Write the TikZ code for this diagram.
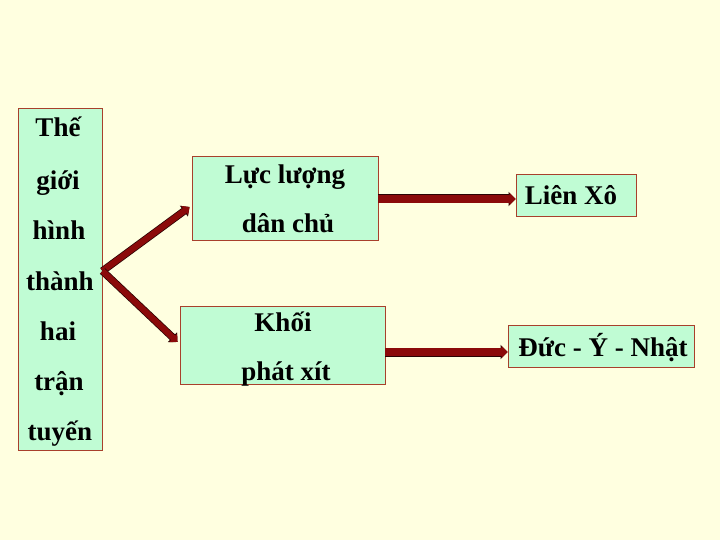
\documentclass[tikz,border=0pt]{standalone}
\usepackage{fontspec}
\setmainfont{Liberation Serif}
\usetikzlibrary{arrows.meta,calc}
\definecolor{bg}{HTML}{FFFFE0}
\definecolor{boxfill}{HTML}{C0FCD4}
\definecolor{boxline}{HTML}{A8402C}
\definecolor{arrowred}{HTML}{8B0A0A}
\tikzset{
  box/.style={draw=boxline, fill=boxfill, line width=0.9pt, inner sep=0pt},
  txt/.style={font=\fontsize{27}{30}\selectfont\bfseries, inner sep=0pt, anchor=base},
  bigarrow/.style={line width=6pt, draw=arrowred, -{Triangle[width=11pt,length=6pt,fill=arrowred]},
    preaction={draw=black!70!arrowred, line width=7.5pt, -{Triangle[width=13pt,length=7pt]}}},
  widearrow/.style={line width=7.5pt, draw=arrowred, -{Triangle[width=12pt,length=6pt,fill=arrowred]},
    preaction={draw=black!70!arrowred, line width=9pt, -{Triangle[width=14pt,length=7pt]}}},
}
\begin{document}
\begin{tikzpicture}[x=1pt,y=-1pt]
\fill[bg] (0,0) rectangle (720,540);
\useasboundingbox (0,0) rectangle (720,540);
% boxes
\node[box, minimum width=84pt, minimum height=342pt] (L) at (60,279) {};
\node[box, minimum width=186pt, minimum height=84pt] (A) at (285,198) {};
\node[box, minimum width=205pt, minimum height=78pt] (B) at (282.5,345) {};
\node[box, minimum width=120pt, minimum height=42pt] (LX) at (576,195) {};
\node[box, minimum width=186pt, minimum height=42pt] (D) at (601,346) {};
% texts
\node[txt] (t1) at (58,137) {Thế};
\node[txt] (t2) at (58,190) {giới};
\node[txt] (t3) at (59,240) {hình};
\node[txt] (t4) at (60,290) {thành};
\node[txt] (t5) at (58,340) {hai};
\node[txt] (t6) at (59,390) {trận};
\node[txt] (t7) at (60,440) {tuyến};
\node[txt] (a1) at (285,184) {Lực lượng};
\node[txt] (a2) at (288,233) {dân chủ};
\node[txt] (b1) at (283,331) {Khối};
\node[txt] (b2) at (286,380) {phát xít};
\node[txt] (lx) at (571,205) {Liên Xô};
\node[txt] (dd) at (603,356) {Đức - Ý - Nhật};
% connectors
\coordinate (o) at ($(L.east)+(0,-8)$);
\coordinate (ae) at ($(A.east)+(0,1)$);
\coordinate (be) at ($(B.east)+(0,7)$);
\draw[bigarrow] (o) -- ($(A.west)+(-2,9)$);
\draw[bigarrow] (o) -- ($(B.west)+(-2,-3)$);
\draw[widearrow] (ae) -- (ae -| LX.west);
\draw[widearrow] (be) -- (be -| D.west);
\end{tikzpicture}
\end{document}
